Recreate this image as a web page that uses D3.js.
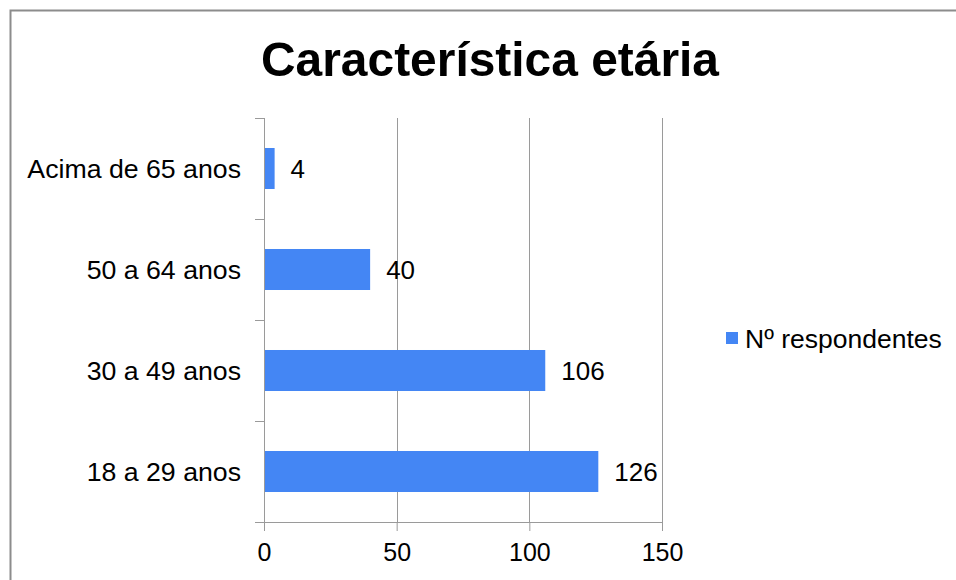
<!DOCTYPE html>
<html>
<head>
<meta charset="utf-8">
<script src="https://cdn.jsdelivr.net/npm/d3@7"></script>
<style>
  html, body { margin: 0; padding: 0; background: #fff; }
  svg { display: block; font-family: "Liberation Sans", Arial, sans-serif; }
</style>
</head>
<body>
<svg id="chart" width="956" height="580"></svg>
<script>
const title = "Característica etária";
const categories = ["Acima de 65 anos", "50 a 64 anos", "30 a 49 anos", "18 a 29 anos"];
const values = [4, 40, 106, 126];
const xTicks = [0, 50, 100, 150];
const seriesName = "Nº respondentes";

(function () {
const svg = d3.select("#chart");
const W = 956, H = 580;
const pLeft = 264, pRight = 662, pTop = 118, pBottom = 522;
const barColor = "#4486f4";
const gridColor = "#9a9a9a";

// frame
svg.append("rect").attr("x", 10.5).attr("y", 10.5).attr("width", W + 20).attr("height", H + 20)
  .attr("fill", "#fff").attr("stroke", "#8c8c8c").attr("stroke-width", 2);

// title
svg.append("text").attr("x", 490).attr("y", 76).attr("text-anchor", "middle")
  .attr("font-size", 49).attr("font-weight", "bold").attr("fill", "#000")
  .attr("textLength", 458).attr("lengthAdjust", "spacingAndGlyphs")
  .text(title);

const x = d3.scaleLinear().domain([0, 150]).range([pLeft, pRight]);
const y = d3.scaleBand().domain(categories).range([pTop, pBottom]).paddingInner(0.594).paddingOuter(0.297);

// gridlines
svg.append("g").selectAll("line").data(xTicks.filter(d => d > 0)).join("line")
  .attr("x1", d => Math.round(x(d)) + 0.5).attr("x2", d => Math.round(x(d)) + 0.5)
  .attr("y1", pTop).attr("y2", pBottom)
  .attr("stroke", gridColor).attr("stroke-width", 1);

// bars
svg.append("g").selectAll("rect").data(values).join("rect")
  .attr("x", x(0)).attr("y", (d, i) => y(categories[i]))
  .attr("width", d => x(d) - x(0)).attr("height", y.bandwidth())
  .attr("fill", barColor);

// left axis line + category ticks
const step = y.step();
svg.append("line").attr("x1", pLeft + 0.5).attr("x2", pLeft + 0.5).attr("y1", pTop).attr("y2", pBottom)
  .attr("stroke", gridColor).attr("stroke-width", 1);
svg.append("g").selectAll("line").data(d3.range(categories.length + 1)).join("line")
  .attr("x1", pLeft - 9).attr("x2", pLeft)
  .attr("y1", i => Math.round(pTop + i * step) + 0.5).attr("y2", i => Math.round(pTop + i * step) + 0.5)
  .attr("stroke", gridColor).attr("stroke-width", 1);

// bottom axis
const xAxis = d3.axisBottom(x).tickValues(xTicks).tickSize(9).tickPadding(12).tickFormat(d3.format("d"));
const gx = svg.append("g").attr("transform", `translate(0,${pBottom})`).call(xAxis);
gx.select(".domain").attr("stroke", gridColor).attr("d", `M${pLeft - 9},0.5H${pRight}`);
gx.selectAll(".tick line").attr("stroke", gridColor);
gx.selectAll(".tick text").attr("font-size", 25).attr("fill", "#000")
  .attr("font-family", "Liberation Sans, Arial, sans-serif");

// category labels
svg.append("g").selectAll("text").data(categories).join("text")
  .attr("x", 241).attr("y", d => y(d) + y.bandwidth() / 2)
  .attr("dy", "0.36em").attr("text-anchor", "end")
  .attr("font-size", 26.7).attr("fill", "#000")
  .text(d => d);

// value labels
svg.append("g").selectAll("text").data(values).join("text")
  .attr("x", d => x(d) + 16).attr("y", (d, i) => y(categories[i]) + y.bandwidth() / 2)
  .attr("dy", "0.36em").attr("font-size", 26).attr("fill", "#000")
  .text(d => d);

// legend
const lg = svg.append("g").attr("transform", "translate(726,332)");
lg.append("rect").attr("width", 12).attr("height", 12).attr("fill", barColor);
lg.append("text").attr("x", 19).attr("y", 6).attr("dy", "0.36em")
  .attr("font-size", 26.5).attr("fill", "#000").text(seriesName);
})();
</script>
</body>
</html>
